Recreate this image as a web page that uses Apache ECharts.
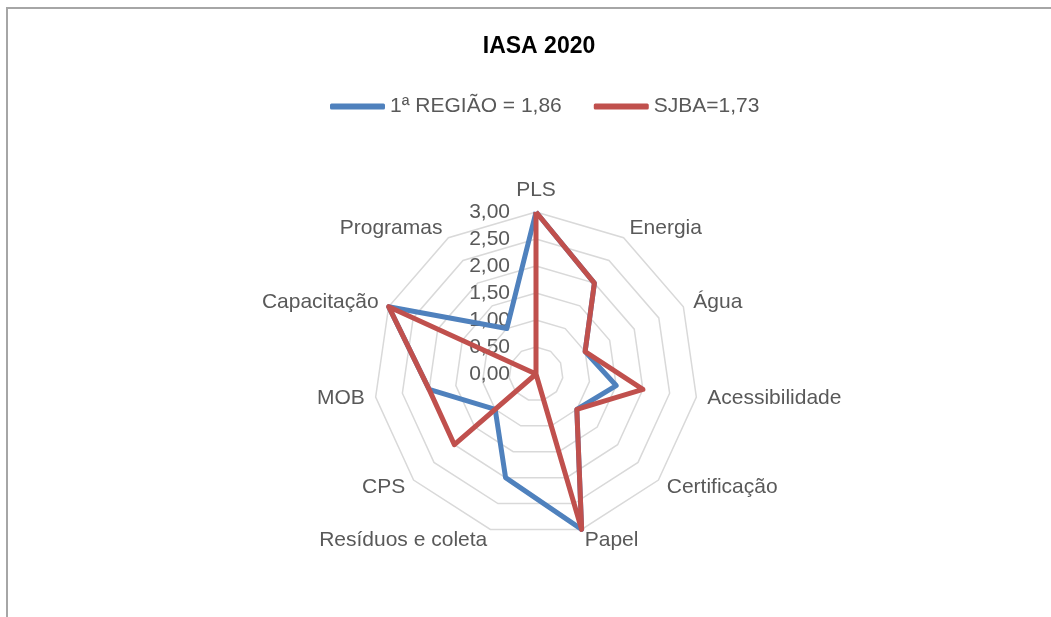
<!DOCTYPE html>
<html>
<head>
<meta charset="utf-8">
<script src="https://cdn.jsdelivr.net/npm/echarts@6/dist/echarts.min.js"></script>
<style>
  html, body { margin: 0; padding: 0; background: #ffffff; }
  #chart { position: absolute; left: 0; top: 0; width: 1051px; height: 617px; }
  #frame { position: absolute; left: 6px; top: 7px; width: 1100px; height: 700px;
           border-left: 2px solid #a6a6a6; border-top: 2px solid #a6a6a6; pointer-events: none; }
</style>
</head>
<body>
<div id="chart"></div>
<div id="frame"></div>
<script>
// Data (clockwise from top, as in the reference)
const categories = ['PLS', 'Energia', 'Água', 'Acessibilidade', 'Certificação', 'Papel',
                    'Resíduos e coleta', 'CPS', 'MOB', 'Capacitação', 'Programas'];
const regiao = [3.0, 2.0, 1.0, 1.5, 1.0, 3.0, 2.0, 1.0, 2.0, 3.0, 1.0];
const sjba   = [3.0, 2.0, 1.0, 2.0, 1.0, 3.0, 0.0, 2.0, 2.0, 3.0, 0.0];
const seriesNames = ['1ª REGIÃO = 1,86', 'SJBA=1,73'];
const axisMin = 0, axisMax = 3.0, axisStep = 0.5;

// ECharts radar runs counter-clockwise; reorder to draw clockwise
function cw(arr) { return [arr[0]].concat(arr.slice(1).reverse()); }

const FONT = '"Liberation Sans", Arial, sans-serif';
const TXT = '#595959';

const indicators = cw(categories).map((c, i) => {
  const o = { name: c, min: axisMin, max: axisMax };
  if (i === 0) o.axisLabel = { show: true };
  return o;
});

const chart = echarts.init(document.getElementById('chart'), null, { renderer: 'canvas' });
chart.setOption({
  animation: false,
  backgroundColor: 'transparent',
  title: {
    text: 'IASA 2020',
    left: 534, top: 30, textAlign: 'center',
    textStyle: { fontFamily: FONT, fontSize: 23, fontWeight: 'bold', color: '#000000' }
  },
  legend: {
    left: 330, top: 96, padding: 0,
    itemWidth: 55, itemHeight: 6, itemGap: 32,
    icon: 'roundRect',
    textStyle: { fontFamily: FONT, fontSize: 21, color: TXT },
    data: seriesNames
  },
  radar: {
    center: [536, 374],
    radius: 162,
    startAngle: 90,
    shape: 'polygon',
    splitNumber: Math.round((axisMax - axisMin) / axisStep),
    indicator: indicators,
    nameGap: 11,
    axisName: { fontFamily: FONT, fontSize: 21, color: TXT },
    axisLine: { show: false },
    axisTick: { show: false },
    axisLabel: {
      show: false, margin: 26, fontFamily: FONT, fontSize: 21, color: TXT,
      formatter: v => Number(v).toFixed(2).replace('.', ',')
    },
    splitLine: { lineStyle: { color: '#d9d9d9', width: 1.5 } },
    splitArea: { show: false }
  },
  series: [{
    type: 'radar',
    symbol: 'none',
    data: [
      { name: seriesNames[0], value: cw(regiao),
        lineStyle: { color: '#4f81bd', width: 5 }, itemStyle: { color: '#4f81bd' } },
      { name: seriesNames[1], value: cw(sjba),
        lineStyle: { color: '#c0504d', width: 5 }, itemStyle: { color: '#c0504d' } }
    ]
  }]
});
</script>
</body>
</html>
